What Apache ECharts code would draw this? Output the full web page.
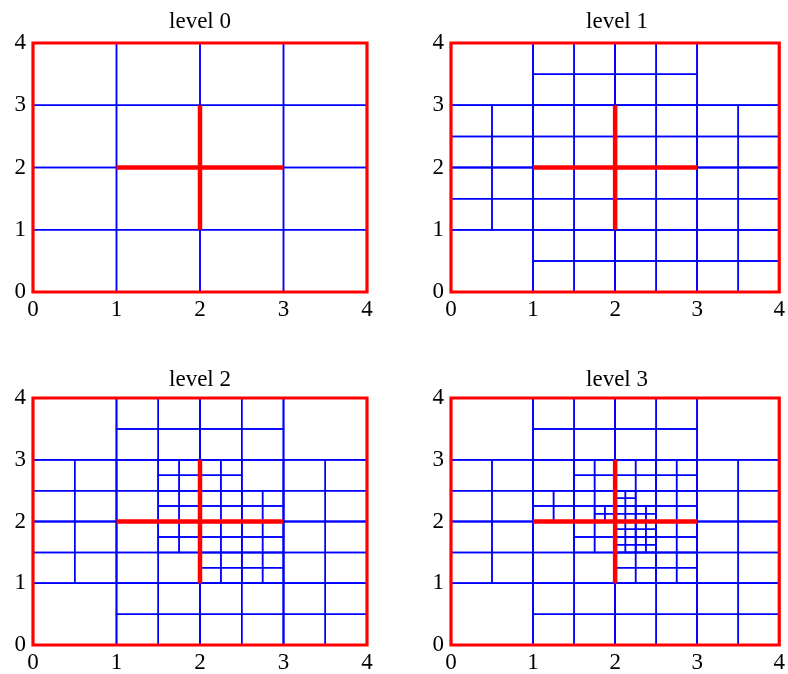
<!DOCTYPE html>
<html>
<head>
<meta charset="utf-8">
<script src="https://cdn.jsdelivr.net/npm/echarts@6/dist/echarts.min.js"></script>
<style>
  html, body { margin: 0; padding: 0; background: #fff; }
  #chart { width: 788px; height: 674px; }
</style>
</head>
<body>
<div id="chart"></div>
<script>
// mesh data
const levels = ['level 0', 'level 1', 'level 2', 'level 3'];
const ticks = [0, 1, 2, 3, 4];

// coarse 1x1 cells [x, y]
const baseCells = [
    [0, 0], [1, 0], [2, 0], [3, 0],
    [0, 1], [1, 1], [2, 1], [3, 1],
    [0, 2], [1, 2], [2, 2], [3, 2],
    [0, 3], [1, 3], [2, 3], [3, 3]
];
// unit cells split in four (levels 1-3)
const refineUnit = [
    [1, 0], [2, 0], [3, 0],
    [0, 1], [1, 1], [2, 1], [3, 1],
    [0, 2], [1, 2], [2, 2], [3, 2],
    [1, 3], [2, 3]
];
// half cells split in four
const refineHalf2 = [
    [1.5, 2.5], [2, 2.5],
    [1.5, 2], [2, 2], [2.5, 2],
    [1.5, 1.5], [2, 1.5], [2.5, 1.5],
    [2, 1], [2.5, 1]
];
const refineHalf3 = [
    [1.5, 2.5], [2, 2.5], [2.5, 2.5],
    [1, 2], [1.5, 2], [2, 2], [2.5, 2],
    [1.5, 1.5], [2, 1.5], [2.5, 1.5],
    [2, 1], [2.5, 1]
];
// quarter cells split in four (level 3 only)
const refineQuarter3 = [
    [2, 2.25],
    [1.75, 2], [2, 2], [2.25, 2],
    [2, 1.75], [2.25, 1.75],
    [2, 1.5], [2.25, 1.5]
];
// crack segments
const crackV = [[2, 1], [2, 3]];
const crackH = [[1, 2], [3, 2]];

function children(list, size) {
    const out = [];
    const h = size / 2;
    list.forEach(function (c) {
        out.push([c[0], c[1], h], [c[0] + h, c[1], h], [c[0], c[1] + h, h], [c[0] + h, c[1] + h, h]);
    });
    return out;
}

const base = baseCells.map(function (c) { return [c[0], c[1], 1]; });
const meshes = [
    base,
    base.concat(children(refineUnit, 1)),
    base.concat(children(refineUnit, 1), children(refineHalf2, 0.5)),
    base.concat(children(refineUnit, 1), children(refineHalf3, 0.5), children(refineQuarter3, 0.25))
];

const chart = echarts.init(document.getElementById('chart'));

const panels = [
    { left: 33, top: 43, width: 334, height: 249, cx: 200, ty: 10 },
    { left: 451, top: 43, width: 332, height: 249, cx: 617, ty: 10 },
    { left: 33, top: 398, width: 334, height: 248, cx: 200, ty: 368 },
    { left: 451, top: 398, width: 332, height: 248, cx: 617, ty: 368 }
];

function cellRenderer(color, width) {
    return function (params, api) {
        const x = api.value(0), y = api.value(1), s = api.value(2);
        const p0 = api.coord([x, y + s]);
        const p1 = api.coord([x + s, y]);
        return {
            type: 'rect',
            shape: { x: p0[0], y: p0[1], width: p1[0] - p0[0], height: p1[1] - p0[1] },
            style: { fill: 'none', stroke: color, lineWidth: width }
        };
    };
}

const labelStyle = {
    fontFamily: 'Liberation Serif',
    fontSize: 23,
    color: '#000'
};

const option = {
    animation: false,
    backgroundColor: '#fff',
    title: [],
    grid: [],
    xAxis: [],
    yAxis: [],
    series: []
};

panels.forEach(function (p, i) {
    option.title.push({
        text: levels[i],
        left: p.cx,
        top: p.ty,
        textAlign: 'center',
        padding: 0,
        textStyle: { fontFamily: 'Liberation Serif', fontSize: 23, fontWeight: 'normal', color: '#000' }
    });
    option.grid.push({ left: p.left, top: p.top, width: p.width, height: p.height });
    option.xAxis.push({
        type: 'value', gridIndex: i, min: ticks[0], max: ticks[ticks.length - 1], interval: 1,
        axisLine: { show: false }, axisTick: { show: false }, splitLine: { show: false },
        axisLabel: Object.assign({ margin: 6 }, labelStyle)
    });
    option.yAxis.push({
        type: 'value', gridIndex: i, min: ticks[0], max: ticks[ticks.length - 1], interval: 1,
        axisLine: { show: false }, axisTick: { show: false }, splitLine: { show: false },
        axisLabel: Object.assign({ margin: 7 }, labelStyle)
    });
    option.series.push({
        type: 'custom', xAxisIndex: i, yAxisIndex: i, z: 2,
        renderItem: cellRenderer('#0000ff', 1.5),
        data: meshes[i]
    });
    option.series.push({
        type: 'line', xAxisIndex: i, yAxisIndex: i, z: 4,
        data: crackV, symbol: 'none', lineStyle: { color: '#ff0000', width: 4.5 }
    });
    option.series.push({
        type: 'line', xAxisIndex: i, yAxisIndex: i, z: 4,
        data: crackH, symbol: 'none', lineStyle: { color: '#ff0000', width: 4.5 }
    });
    option.series.push({
        type: 'custom', xAxisIndex: i, yAxisIndex: i, z: 5,
        renderItem: cellRenderer('#ff0000', 3.2),
        data: [[0, 0, 4]]
    });
});

chart.setOption(option);

window.addEventListener('resize', function () {
    chart.resize();
});
</script>
</body>
</html>
